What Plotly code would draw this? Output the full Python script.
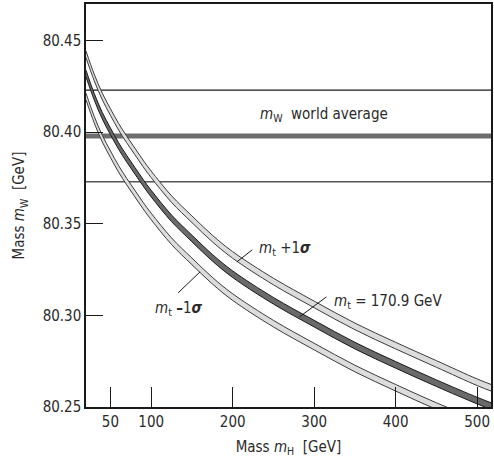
import plotly.graph_objects as go

# ---- data ----
mh = [20, 30, 40, 50, 60, 70, 80, 90, 100, 125, 150, 175, 200, 250, 300, 350, 400, 450, 500, 520]
mw_central = [80.432, 80.4195, 80.409, 80.4005, 80.3925, 80.3855, 80.379, 80.3725, 80.3665,
              80.353, 80.342, 80.3315, 80.3225, 80.308, 80.2955, 80.2835, 80.273, 80.263, 80.2535, 80.250]
mw_plus = [80.4425, 80.430, 80.4195, 80.411, 80.403, 80.396, 80.3895, 80.383, 80.377,
           80.3635, 80.3525, 80.342, 80.333, 80.3185, 80.306, 80.294, 80.2835, 80.2735, 80.2635, 80.260]
mw_minus = [80.4195, 80.407, 80.3965, 80.388, 80.380, 80.373, 80.3665, 80.360, 80.354,
            80.3405, 80.3295, 80.319, 80.310, 80.2955, 80.283, 80.271, 80.2605, 80.2505, 80.2415, 80.238]
band_half = 0.0018

mw_world = 80.398
mw_world_err = 0.025

x_range = [20, 517]
y_range = [80.25, 80.47]
x_ticks = [50, 100, 200, 300, 400, 500]
y_ticks = [80.25, 80.30, 80.35, 80.40, 80.45]
y_ticklabels = ["80.25", "80.30", "80.35", "80.40", "80.45"]

FONT = "DejaVu Sans Condensed, Liberation Sans Narrow, Roboto, sans-serif"
TXT = "#2a2a2a"
FS = 15

fig = go.Figure()

# world average lines
for yv, col, w in [(mw_world + mw_world_err, "#1a1a1a", 1.2),
                   (mw_world - mw_world_err, "#555555", 1.5),
                   (mw_world, "#6e6e6e", 5)]:
    fig.add_trace(go.Scatter(x=x_range, y=[yv, yv], mode="lines",
                             line=dict(color=col, width=w), hoverinfo="skip", showlegend=False))


def add_band(center, fill, edge):
    lo = [c - band_half for c in center]
    hi = [c + band_half for c in center]
    fig.add_trace(go.Scatter(x=mh, y=lo, mode="lines", line=dict(color=edge, width=1, shape="spline"),
                             hoverinfo="skip", showlegend=False))
    fig.add_trace(go.Scatter(x=mh, y=hi, mode="lines", line=dict(color=edge, width=1, shape="spline"),
                             fill="tonexty", fillcolor=fill, hoverinfo="skip", showlegend=False))


add_band(mw_plus, "#dcdcdc", "#3c3c3c")
add_band(mw_minus, "#dcdcdc", "#3c3c3c")
add_band(mw_central, "#6a6a6a", "#1a1a1a")

# leader lines (label decorations)
leaders = [((205, 80.3292), (224, 80.3358)),
           ((282, 80.2992), (315, 80.3101)),
           ((160, 80.3238), (133, 80.3123))]
for (x0, y0), (x1, y1) in leaders:
    fig.add_shape(type="line", x0=x0, y0=y0, x1=x1, y1=y1, xref="x", yref="y",
                  line=dict(color="#1a1a1a", width=1))

labels = [
    (230.9, 80.4096, "<i>m</i><sub>W</sub>  world average"),
    (229.5, 80.3365, "<i>m</i><sub>t</sub> +1<b><i>σ</i></b>"),
    (321.5, 80.3076, "<i>m</i><sub>t</sub> = 170.9 GeV"),
    (102.0, 80.3036, "<i>m</i><sub>t</sub> <b>–</b>1<b><i>σ</i></b>"),
]
for x, y, t in labels:
    fig.add_annotation(x=x, y=y, text=t, showarrow=False, xanchor="left", yanchor="middle",
                       font=dict(family=FONT, size=FS, color=TXT))

fig.update_xaxes(range=x_range, tickvals=x_ticks, ticks="inside", ticklen=20, tickwidth=1.2,
                 tickcolor="#1a1a1a", showline=True, linecolor="#1a1a1a", linewidth=1.5, mirror=True,
                 showgrid=False, zeroline=False, automargin=False,
                 tickfont=dict(family=FONT, size=FS, color=TXT),
                 title=dict(text="Mass <i>m</i><sub>H</sub>  [GeV]", font=dict(family=FONT, size=FS, color=TXT),
                            standoff=12))
fig.update_yaxes(range=y_range, tickvals=y_ticks, ticktext=y_ticklabels, ticks="inside", ticklen=17,
                 tickwidth=1.2, tickcolor="#1a1a1a", showline=True, linecolor="#1a1a1a", linewidth=1.5,
                 mirror=True, showgrid=False, zeroline=False, automargin=False,
                 tickfont=dict(family=FONT, size=FS, color=TXT),
                 title=dict(text="Mass <i>m</i><sub>W</sub>  [GeV]", font=dict(family=FONT, size=FS, color=TXT),
                            standoff=14))
fig.update_layout(width=494, height=464, margin=dict(l=86, r=3, t=4, b=57),
                  plot_bgcolor="white", paper_bgcolor="white", showlegend=False)

fig.write_html("out.html", config={"displayModeBar": False},
               post_script="document.body.style.margin='0';")
